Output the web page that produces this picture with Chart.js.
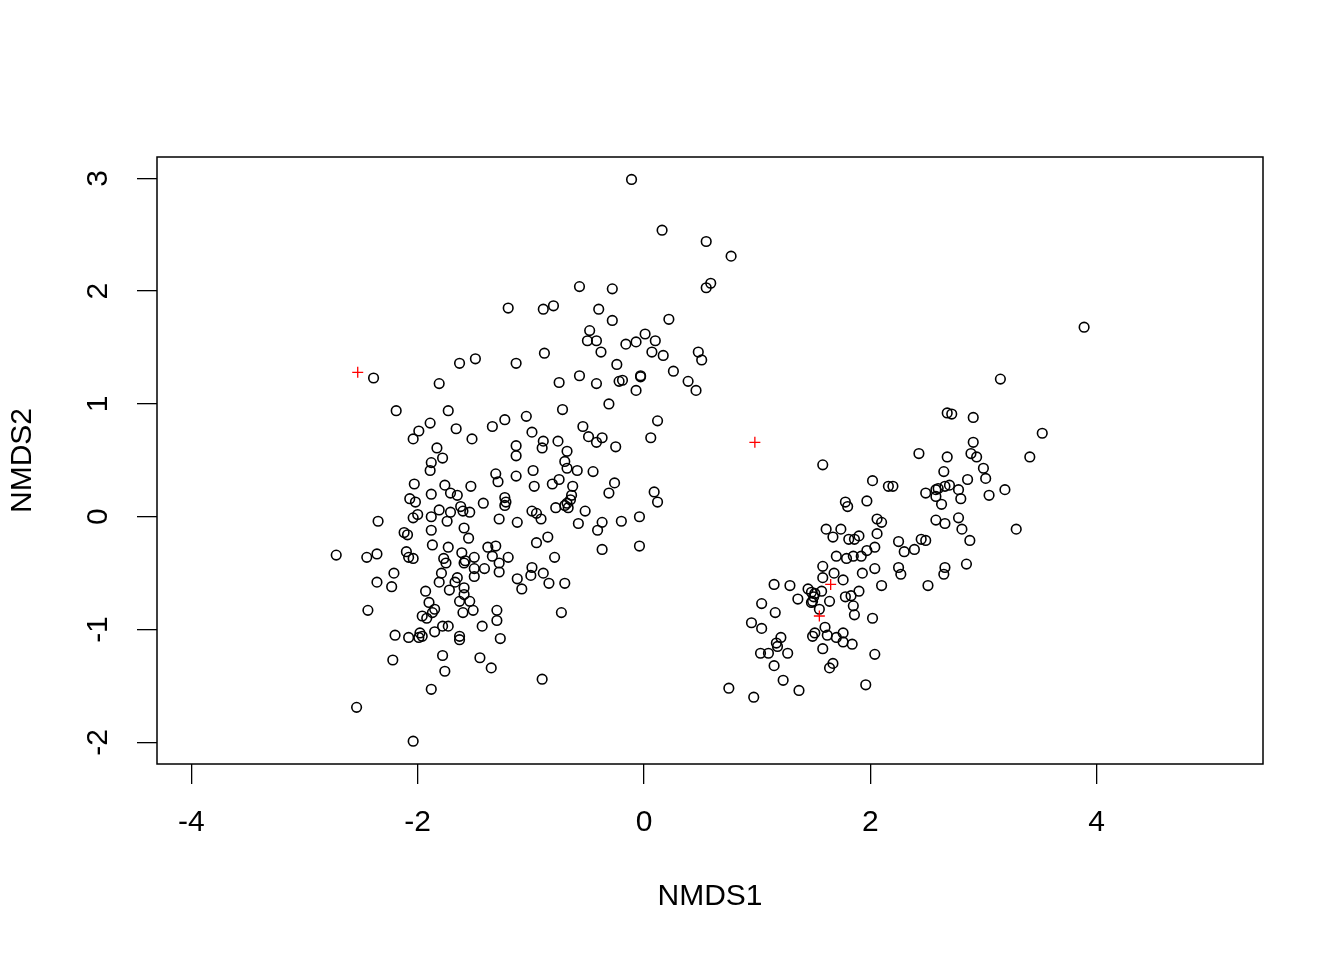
<!DOCTYPE html>
<html><head><meta charset="utf-8">
<script src="https://cdn.jsdelivr.net/npm/chart.js@4/dist/chart.umd.min.js"></script>
<style>html,body{margin:0;padding:0;background:#fff}canvas{display:block}</style>
</head><body>
<canvas id="c" width="1344" height="960"></canvas>
<script>
const xTicks = [-4, -2, 0, 2, 4];
const yTicks = [-2, -1, 0, 1, 2, 3];
const xLimits = [-4.304, 5.471];
const yLimits = [-2.192, 3.189];
const axisTitles = ['NMDS1', 'NMDS2'];

const sitesLeft = [
[-0.11,2.99],[0.16,2.54],[0.55,2.44],[0.77,2.31],[0.59,2.07],[0.55,2.03],[-0.57,2.04],[-0.28,2.02],[-1.20,1.85],[-0.89,1.84],[-0.80,1.87],[-0.40,1.84],[0.22,1.75],[-0.28,1.74],[-0.48,1.65],[-0.50,1.56],[-0.42,1.56],[0.01,1.62],[-0.38,1.46],[-0.16,1.53],[-0.07,1.55],[0.10,1.56],[0.07,1.46],[0.17,1.43],[0.48,1.46],[0.51,1.39],[-0.88,1.45],[-1.13,1.36],[-1.49,1.40],[-1.63,1.36],[-0.24,1.35],[-0.57,1.25],[-0.03,1.24],[-0.03,1.25],[0.26,1.29],[0.39,1.20],[0.46,1.12],[-0.22,1.20],[-0.19,1.21],[-0.42,1.18],[-0.75,1.19],[-0.07,1.12],[-1.81,1.18],[-2.39,1.23],
[-2.19,0.94],[-1.73,0.94],[-0.72,0.95],[-0.31,1.00],[0.12,0.85],[-1.89,0.83],[-1.23,0.86],[-1.34,0.80],[-1.04,0.89],[-1.66,0.78],[-1.99,0.76],[-2.04,0.69],[-1.52,0.69],[-0.99,0.75],[-0.54,0.80],[-0.89,0.67],[-0.90,0.61],[-0.76,0.67],[-1.13,0.63],[-0.49,0.71],[-0.42,0.66],[-0.37,0.70],[-0.25,0.62],[0.06,0.70],[-1.83,0.61],[-1.78,0.52],[-1.13,0.54],[-0.68,0.58],[-0.70,0.49],[-0.68,0.43],[-1.88,0.48],[-1.89,0.41],[-0.98,0.41],[-1.31,0.38],[-0.59,0.41],[-0.45,0.40],[-1.13,0.36],
[-2.03,0.29],[-1.76,0.28],[-1.53,0.27],[-1.29,0.31],[-0.75,0.33],[-0.81,0.29],[-0.63,0.27],[-0.26,0.30],[-2.07,0.16],[-2.02,0.13],[-1.88,0.20],[-1.71,0.21],[-1.65,0.19],[-1.23,0.17],[-1.22,0.13],[-1.23,0.10],[-0.97,0.27],[-0.64,0.19],[-0.65,0.15],[-0.68,0.12],[-0.70,0.10],[-0.67,0.08],[-0.31,0.21],[0.09,0.22],[0.12,0.13],[-1.42,0.12],[-1.62,0.09],[-1.60,0.05],[-1.54,0.04],[-1.81,0.06],[-1.71,0.04],[-2.00,0.02],[-2.04,-0.01],[-1.88,0.00],[-0.99,0.05],[-0.95,0.03],[-0.91,-0.02],[-0.78,0.08],[-1.28,-0.02],[-1.12,-0.05],[-0.52,0.05],[-0.58,-0.06],[-0.37,-0.05],[-0.41,-0.12],[-0.20,-0.04],[-0.04,0.00],
[-2.35,-0.04],[-1.74,-0.04],[-1.88,-0.12],[-1.59,-0.10],[-2.12,-0.14],[-2.09,-0.16],[-1.55,-0.19],[-0.85,-0.18],[-0.95,-0.23],[-0.04,-0.26],[-1.87,-0.25],[-1.73,-0.27],[-1.61,-0.32],[-1.38,-0.27],[-1.31,-0.26],[-0.37,-0.29],[-2.10,-0.31],[-2.08,-0.36],[-2.04,-0.37],[-2.36,-0.33],[-2.72,-0.34],[-2.45,-0.36],[-1.77,-0.37],[-1.75,-0.41],[-1.59,-0.41],[-1.58,-0.39],[-1.50,-0.36],[-1.34,-0.35],[-1.28,-0.41],[-1.28,-0.49],[-1.20,-0.36],[-1.41,-0.46],[-1.50,-0.46],[-1.50,-0.53],[-0.79,-0.36],[-0.99,-0.45],[-1.00,-0.52],[-0.89,-0.50],[-2.21,-0.50],[-1.79,-0.50],[-1.81,-0.58],[-1.65,-0.54],[-1.67,-0.58],[-1.12,-0.55],[-1.08,-0.64],[-2.36,-0.58],[-2.23,-0.62],[-1.72,-0.65],[-1.59,-0.63],[-1.59,-0.69],[-0.84,-0.59],[-0.70,-0.59],[-1.93,-0.66],
[-1.63,-0.75],[-1.54,-0.75],[-1.90,-0.76],[-1.85,-0.82],[-1.87,-0.85],[-1.96,-0.88],[-1.92,-0.90],[-1.51,-0.83],[-1.60,-0.85],[-1.30,-0.83],[-1.30,-0.92],[-0.73,-0.85],[-2.44,-0.83],[-1.43,-0.97],[-1.78,-0.97],[-1.73,-0.97],[-2.20,-1.05],[-2.08,-1.07],[-1.98,-1.03],[-1.96,-1.06],[-1.99,-1.07],[-1.85,-1.02],[-1.63,-1.06],[-1.63,-1.09],[-1.27,-1.08],[-1.78,-1.23],[-1.45,-1.25],[-2.22,-1.27],[-1.76,-1.37],[-1.35,-1.34],[-0.90,-1.44],[-1.88,-1.53],[-2.54,-1.69],[-2.04,-1.99]
];

const sitesRight = [
[3.89,1.68],[3.15,1.22],[2.68,0.92],[2.72,0.91],[2.91,0.88],[3.52,0.74],[2.91,0.66],[2.43,0.56],[2.68,0.53],[2.89,0.56],[2.94,0.53],[3.41,0.53],[1.58,0.46],[2.65,0.40],[3.00,0.43],[3.02,0.34],[2.86,0.33],[2.02,0.32],[2.16,0.27],[2.20,0.27],[2.49,0.21],[2.58,0.24],[2.60,0.25],[2.66,0.27],[2.70,0.28],[2.58,0.18],[2.63,0.11],[2.78,0.24],[2.80,0.16],[3.05,0.19],[3.19,0.24],[1.97,0.14],[1.78,0.13],[1.80,0.09],
[2.58,-0.03],[2.66,-0.06],[2.78,-0.01],[2.81,-0.11],[3.29,-0.11],[2.88,-0.21],[2.06,-0.02],[2.10,-0.05],[1.61,-0.11],[1.74,-0.11],[1.67,-0.18],[1.81,-0.20],[1.86,-0.20],[1.90,-0.17],[2.06,-0.15],[2.25,-0.22],[2.30,-0.31],[2.39,-0.29],[2.45,-0.20],[2.49,-0.21],[1.97,-0.30],[2.04,-0.27],[1.70,-0.35],[1.79,-0.37],[1.85,-0.35],[1.92,-0.35],
[2.04,-0.46],[1.58,-0.44],[1.58,-0.54],[1.68,-0.50],[1.76,-0.56],[1.93,-0.50],[2.25,-0.45],[2.27,-0.51],[2.66,-0.45],[2.65,-0.51],[2.85,-0.42],[2.10,-0.61],[2.51,-0.61],[1.15,-0.60],[1.29,-0.61],[1.45,-0.64],[1.48,-0.67],[1.50,-0.71],[1.49,-0.75],[1.57,-0.66],[1.51,-0.68],[1.48,-0.76],[1.36,-0.73],[1.64,-0.75],[1.78,-0.71],[1.83,-0.70],[1.90,-0.66],[1.85,-0.79],[1.86,-0.87],[1.55,-0.82],
[1.04,-0.77],[1.16,-0.85],[2.02,-0.90],[0.95,-0.94],[1.04,-0.99],[1.60,-0.98],[1.51,-1.03],[1.49,-1.06],[1.62,-1.05],[1.70,-1.07],[1.76,-1.03],[1.76,-1.11],[1.84,-1.13],[1.21,-1.07],[1.17,-1.12],[1.18,-1.15],[1.03,-1.21],[1.10,-1.21],[1.27,-1.21],[1.58,-1.17],[2.04,-1.22],[1.15,-1.32],[1.67,-1.30],[1.64,-1.34],[1.23,-1.45],[1.96,-1.49],[0.75,-1.52],[1.37,-1.54],[0.97,-1.60]
];

const species = [[-2.53,1.28],[0.98,0.66],[1.65,-0.60],[1.55,-0.88]];

const FONT = 'Liberation Sans, Arial, Helvetica, sans-serif';

const boxPlugin = {
  id: 'box',
  beforeDatasetsDraw(chart) {
    const a = chart.chartArea, ctx = chart.ctx;
    ctx.save();
    ctx.strokeStyle = '#000';
    ctx.lineWidth = 1.5;
    ctx.strokeRect(a.left, a.top, a.right - a.left, a.bottom - a.top);
    ctx.restore();
  }
};

const toPts = arr => arr.map(p => ({x: p[0], y: p[1]}));

new Chart(document.getElementById('c'), {
  type: 'scatter',
  data: {
    datasets: [
      {
        label: 'species',
        data: toPts(species),
        pointStyle: 'cross',
        pointRadius: 5.5,
        borderColor: '#ff0000',
        backgroundColor: '#ff0000',
        borderWidth: 1.3
      },
      {
        label: 'sites',
        data: toPts(sitesLeft.concat(sitesRight)),
        pointStyle: 'circle',
        pointRadius: 4.8,
        borderColor: '#000000',
        backgroundColor: 'rgba(0,0,0,0)',
        borderWidth: 1.6
      }
    ]
  },
  options: {
    responsive: false,
    animation: false,
    devicePixelRatio: 1,
    events: [],
    layout: {padding: {left: 0, top: 157, right: 81, bottom: 0}},
    plugins: {legend: {display: false}, tooltip: {enabled: false}},
    scales: {
      x: {
        type: 'linear',
        min: xLimits[0], max: xLimits[1],
        afterBuildTicks(s) { s.ticks = xTicks.map(v => ({value: v})); },
        afterFit(s) { s.height = 196; },
        grid: {display: true, drawOnChartArea: false, drawTicks: true, tickLength: 20, color: '#000', lineWidth: 1.3},
        border: {display: false},
        ticks: {color: '#000', font: {family: FONT, size: 30}, padding: 21, minRotation: 0, maxRotation: 0, autoSkip: false, callback: v => String(v)},
        title: {display: true, text: axisTitles[0], color: '#000', font: {family: FONT, size: 30}, padding: {top: 0, bottom: 45}}
      },
      y: {
        type: 'linear',
        min: yLimits[0], max: yLimits[1],
        afterBuildTicks(s) { s.ticks = yTicks.map(v => ({value: v})); },
        afterFit(s) { s.width = 157; },
        grid: {display: true, drawOnChartArea: false, drawTicks: true, tickLength: 20, color: '#000', lineWidth: 1.3},
        border: {display: false},
        ticks: {color: '#000', font: {family: FONT, size: 30}, padding: 25, minRotation: 90, maxRotation: 90, crossAlign: 'center', autoSkip: false, callback: v => String(v)},
        title: {display: true, text: axisTitles[1], color: '#000', font: {family: FONT, size: 30}, padding: {top: 5, bottom: 0}}
      }
    }
  },
  plugins: [boxPlugin]
});
</script>
</body></html>
